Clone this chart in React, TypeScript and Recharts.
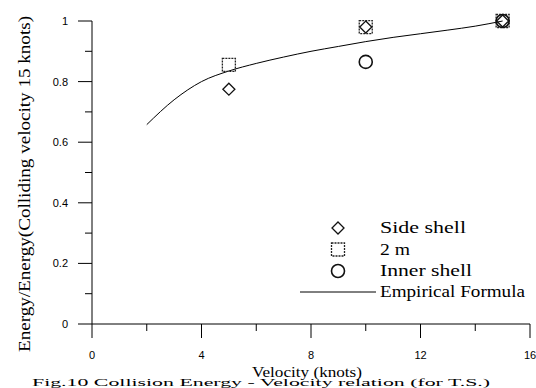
import React from 'react';
import { ComposedChart, XAxis, YAxis, Scatter, Line, Legend } from 'recharts';

// Data
const sideShell = [
  { x: 5, y: 0.775 },
  { x: 10, y: 0.98 },
  { x: 15, y: 1.0 },
];
const twoMeter = [
  { x: 5, y: 0.855 },
  { x: 10, y: 0.98 },
  { x: 15, y: 1.0 },
];
const innerShell = [
  { x: 10, y: 0.865 },
  { x: 15, y: 1.0 },
];
const empirical = [
  { x: 2, y: 0.658 },
  { x: 3, y: 0.74 },
  { x: 4, y: 0.8 },
  { x: 5, y: 0.835 },
  { x: 6, y: 0.86 },
  { x: 7, y: 0.881 },
  { x: 8, y: 0.9 },
  { x: 9, y: 0.916 },
  { x: 10, y: 0.932 },
  { x: 11, y: 0.946 },
  { x: 12, y: 0.958 },
  { x: 13, y: 0.97 },
  { x: 14, y: 0.983 },
  { x: 15, y: 1.0 },
];
const xTicks = [0, 2, 4, 6, 8, 10, 12, 14, 16];
const xMajorLabels = ['0', '4', '8', '12', '16'];
const yTicks = [0, 0.1, 0.2, 0.3, 0.4, 0.5, 0.6, 0.7, 0.8, 0.9, 1];
const yMajorLabels = ['0', '0.2', '0.4', '0.6', '0.8', '1'];
const legendLabels = ['Side shell', '2 m', 'Inner shell', 'Empirical Formula'];
const xTitle = 'Velocity (knots)';
const yTitle = 'Energy/Energy(Colliding velocity 15 knots)';
const caption = 'Fig.10 Collision Energy - Velocity relation (for T.S.)';

const SERIF = 'Liberation Serif';
const SANS = 'Liberation Sans';
// widths of the (horizontally stretched, scanned) legend texts
const legendTextWidths = [86, 30, 92, 145];

const Diamond = (p: any) => {
  const { cx, cy } = p;
  if (cx == null || cy == null) return <g />;
  const r = 6;
  return (
    <path
      d={`M${cx},${cy - r} L${cx + r},${cy} L${cx},${cy + r} L${cx - r},${cy} Z`}
      fill="none"
      stroke="#111"
      strokeWidth={1.3}
    />
  );
};
const Square = (p: any) => {
  const { cx, cy } = p;
  if (cx == null || cy == null) return <g />;
  const r = 6.5;
  return (
    <rect
      x={cx - r}
      y={cy - r}
      width={2 * r}
      height={2 * r}
      fill="none"
      stroke="#222"
      strokeWidth={1.3}
      strokeDasharray="2 1"
    />
  );
};
const Circle = (p: any) => {
  const { cx, cy } = p;
  if (cx == null || cy == null) return <g />;
  return <circle cx={cx} cy={cy} r={6.5} fill="none" stroke="#111" strokeWidth={1.6} />;
};

const XTick = (p: any) => {
  const { x, y, payload } = p;
  const v = payload.value;
  const major = v % 4 === 0;
  const label = major ? xMajorLabels[v / 4] : null;
  return (
    <g>
      <line x1={x} y1={y} x2={x} y2={y + (major ? 14 : 7)} stroke="#000" strokeWidth={1} />
      {label != null && (
        <text x={x} y={y + 35} textAnchor="middle" fontFamily={SANS} fontSize={11} fill="#000">
          {label}
        </text>
      )}
    </g>
  );
};

const YTick = (p: any) => {
  const { x, y, payload } = p;
  const v = Math.round(payload.value * 10);
  const major = v % 2 === 0;
  const label = major ? yMajorLabels[v / 2] : null;
  return (
    <g>
      <line x1={x} y1={y} x2={x - (major ? 14 : 7)} y2={y} stroke="#000" strokeWidth={1} />
      {label != null && (
        <text x={x - 24} y={y + 4} textAnchor="end" fontFamily={SANS} fontSize={11} fill="#000">
          {label}
        </text>
      )}
    </g>
  );
};

const LegendContent = () => {
  const rows = [0, 21.5, 43, 64];
  return (
    <svg width={238} height={90} style={{ overflow: 'visible', display: 'block' }}>
      <Diamond cx={40} cy={12 + rows[0]} />
      <Square cx={40} cy={12 + rows[1]} />
      <Circle cx={40} cy={12 + rows[2]} />
      <line x1={2} y1={12 + rows[3]} x2={78} y2={12 + rows[3]} stroke="#000" strokeWidth={1} />
      {legendLabels.map((t, i) => (
        <text
          key={t}
          x={82}
          y={17 + rows[i]}
          fontFamily={SERIF}
          fontSize={16.5}
          textLength={legendTextWidths[i]}
          lengthAdjust="spacingAndGlyphs"
          fill="#000"
        >
          {t}
        </text>
      ))}
    </svg>
  );
};

export default function App() {
  return (
    <div style={{ position: 'absolute', left: 0, top: 0, background: '#fff' }}>
      <ComposedChart width={536} height={388} margin={{ top: 21, right: 6, bottom: 0, left: 0 }}>
        <XAxis
          dataKey="x"
          type="number"
          domain={[0, 16]}
          ticks={xTicks}
          interval={0}
          tickSize={0}
          tickMargin={0}
          tickLine={false}
          tick={<XTick />}
          height={64}
          stroke="#000"
          allowDuplicatedCategory={false}
          label={{
            content: () => (
              <g>
                <text
                  x={307}
                  y={377}
                  textAnchor="middle"
                  fontFamily={SERIF}
                  fontSize={15}
                  textLength={110}
                  lengthAdjust="spacingAndGlyphs"
                  fill="#000"
                >
                  {xTitle}
                </text>
                <text
                  x={32}
                  y={386}
                  textLength={458}
                  lengthAdjust="spacingAndGlyphs"
                  fontFamily={SERIF}
                  fontSize={10}
                  fill="#000"
                >
                  {caption}
                </text>
              </g>
            ),
          }}
        />
        <YAxis
          dataKey="y"
          type="number"
          domain={[0, 1]}
          ticks={yTicks}
          interval={0}
          tickSize={0}
          tickMargin={0}
          tickLine={false}
          tick={<YTick />}
          width={92}
          stroke="#000"
          label={{
            content: () => (
              <text
                x={0}
                y={0}
                transform="translate(30,184) rotate(-90)"
                textAnchor="middle"
                fontFamily={SERIF}
                fontSize={16}
                textLength={336}
                lengthAdjust="spacingAndGlyphs"
                fill="#000"
              >
                {yTitle}
              </text>
            ),
          }}
        />
        <Line
          data={empirical}
          dataKey="y"
          type="monotone"
          stroke="#000"
          strokeWidth={1}
          dot={false}
          activeDot={false}
          isAnimationActive={false}
          legendType="none"
        />
        <Scatter data={twoMeter} dataKey="y" shape={<Square />} isAnimationActive={false} />
        <Scatter data={sideShell} dataKey="y" shape={<Diamond />} isAnimationActive={false} />
        <Scatter data={innerShell} dataKey="y" shape={<Circle />} isAnimationActive={false} />
        <Legend
          layout="vertical"
          align="center"
          verticalAlign="middle"
          content={<LegendContent />}
          wrapperStyle={{ left: 298, top: 216, width: 238, height: 90 }}
        />
      </ComposedChart>
    </div>
  );
}
